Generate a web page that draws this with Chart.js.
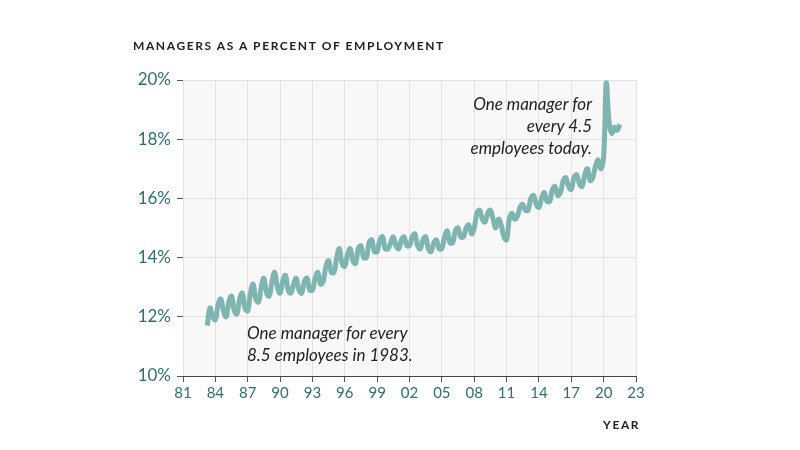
<!DOCTYPE html>
<html>
<head>
<meta charset="utf-8">
<script src="https://cdn.jsdelivr.net/npm/chart.js@4/dist/chart.umd.min.js"></script>
<style>
  body { margin: 0; background: #fff; font-family: Lato, sans-serif; }
  #wrap { position: relative; width: 800px; height: 450px; }
  .lbl { position: absolute; color: #222; }
  .title { left: 133px; top: 38px; font-size: 12px; font-weight: bold; letter-spacing: 1.6px; }
  .year { left: 603px; top: 417px; font-size: 12px; font-weight: bold; letter-spacing: 1.6px; }
  .note { font-style: italic; font-size: 17px; line-height: 22px; }
</style>
</head>
<body>
<div id="wrap">
  <canvas id="chart" width="800" height="450"></canvas>
  <div class="lbl title">MANAGERS AS A PERCENT OF EMPLOYMENT</div>
  <div class="lbl year">YEAR</div>
  <div class="lbl note" style="left:420px; top:93px; width:172px; text-align:right;">One manager for<br>every 4.5<br>employees today.</div>
  <div class="lbl note" style="left:247px; top:322px;">One manager for every<br>8.5 employees in 1983.</div>
</div>
<script>
// Quarterly readings, starting 1983 Q2
const startYear = 1983.25;
const managerShare = [
  11.7, 12.3, 12.0,
  11.9, 12.4, 12.6, 12.2,
  12.0, 12.5, 12.7, 12.2,
  12.1, 12.6, 12.8, 12.3,
  12.2, 12.8, 13.1, 12.6,
  12.5, 13.0, 13.3, 12.8,
  12.7, 13.2, 13.5, 13.0,
  12.8, 13.2, 13.4, 12.9,
  12.8, 13.1, 13.3, 12.9,
  12.8, 13.2, 13.3, 12.9,
  12.9, 13.3, 13.5, 13.1,
  13.2, 13.7, 13.9, 13.5,
  13.5, 14.0, 14.3, 13.8,
  13.7, 14.1, 14.3, 13.9,
  13.8, 14.3, 14.4, 14.0,
  14.0, 14.5, 14.6, 14.2,
  14.2, 14.6, 14.7, 14.3,
  14.3, 14.5, 14.7, 14.4,
  14.3, 14.6, 14.7, 14.4,
  14.4, 14.7, 14.8, 14.4,
  14.3, 14.6, 14.7, 14.3,
  14.2, 14.5, 14.6, 14.3,
  14.3, 14.7, 14.9, 14.5,
  14.5, 14.9, 15.0, 14.7,
  14.7, 15.0, 15.1, 14.8,
  15.0, 15.5, 15.6, 15.3,
  15.2, 15.5, 15.6, 15.3,
  15.0, 15.3, 15.1, 14.7,
  14.6, 15.3, 15.5, 15.3,
  15.4, 15.7, 15.8, 15.6,
  15.6, 16.0, 16.1, 15.8,
  15.7, 16.0, 16.2, 15.9,
  15.9, 16.3, 16.4, 16.1,
  16.2, 16.6, 16.7, 16.4,
  16.3, 16.7, 16.8, 16.5,
  16.4, 16.8, 17.0, 16.6,
  16.7, 17.1, 17.3, 17.0,
  17.4, 19.9, 18.6, 18.2,
  18.4, 18.3, 18.5
];
const yTicks = [10, 12, 14, 16, 18, 20];

const teal = '#2e6f73';
const points = managerShare.map((v, i) => ({ x: startYear + i * 0.25, y: v }));

// light background behind the plot area
const plotBg = {
  id: 'plotBg',
  beforeDraw(chart) {
    const a = chart.chartArea, c = chart.ctx;
    c.save();
    c.fillStyle = '#f8f8f8';
    c.fillRect(a.left, a.top, a.right - a.left, a.bottom - a.top);
    c.restore();
  }
};

new Chart(document.getElementById('chart'), {
  type: 'line',
  data: {
    datasets: [{
      data: points,
      borderColor: '#7fb5b1',
      borderWidth: 5,
      pointRadius: 0,
      tension: 0.4,
      fill: false
    }]
  },
  options: {
    responsive: false,
    animation: false,
    layout: { padding: { top: 80, right: 164, left: 0, bottom: 0 } },
    plugins: { legend: { display: false }, tooltip: { enabled: false } },
    scales: {
      x: {
        type: 'linear', min: 1981, max: 2023,
        afterBuildTicks: s => { s.ticks = []; for (let y = 1981; y <= 2023; y += 3) s.ticks.push({ value: y }); },
        afterFit: s => { s.height = 74; },
        grid: { color: '#e2e2e2', drawTicks: true, tickLength: 6, tickColor: '#555' },
        border: { color: '#444' },
        ticks: { color: teal, font: { family: 'Lato', size: 15 }, padding: 2,
          callback: v => String(v % 100).padStart(2, '0') }
      },
      y: {
        min: 10, max: 20,
        afterBuildTicks: s => { s.ticks = yTicks.map(v => ({ value: v })); },
        afterFit: s => { s.width = 183; },
        grid: { color: '#e2e2e2', tickLength: 6, tickColor: '#555' },
        border: { display: false },
        ticks: { color: teal, font: { family: 'Lato', size: 17 }, padding: 6,
          callback: v => v + '%' }
      }
    }
  },
  plugins: [plotBg]
});
</script>
</body>
</html>
